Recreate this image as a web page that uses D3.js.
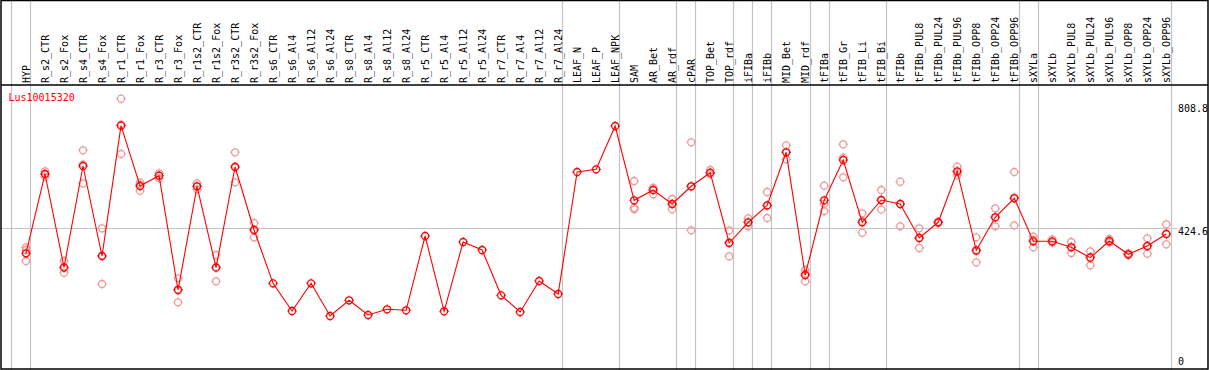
<!DOCTYPE html>
<html>
<head>
<meta charset="utf-8">
<script src="https://cdn.jsdelivr.net/npm/d3@7"></script>
<style>
  html, body { margin: 0; padding: 0; background: #fff; }
  svg { display: block; }
  text { font-family: "DejaVu Sans Mono", monospace; font-size: 10px; }
</style>
</head>
<body>
<div id="chart"></div>
<script>
// expression profile for one gene, means + replicates per sample

const geneName = "Lus10015320";

const samples = [
  "HYP", "R_s2_CTR", "R_s2_Fox", "R_s4_CTR", "R_s4_Fox", "R_r1_CTR", "R_r1_Fox",
  "R_r3_CTR", "R_r3_Fox", "R_r1s2_CTR", "R_r1s2_Fox", "R_r3s2_CTR", "R_r3s2_Fox",
  "R_s6_CTR", "R_s6_Al4", "R_s6_Al12", "R_s6_Al24", "R_s8_CTR", "R_s8_Al4",
  "R_s8_Al12", "R_s8_Al24", "R_r5_CTR", "R_r5_Al4", "R_r5_Al12", "R_r5_Al24",
  "R_r7_CTR", "R_r7_Al4", "R_r7_Al12", "R_r7_Al24", "LEAF_N", "LEAF_P", "LEAF_NPK",
  "SAM", "AR_Bet", "AR_rdf", "cPAR", "TOP_Bet", "TOP_rdf", "iFIBa", "iFIBb",
  "MID_Bet", "MID_rdf", "tFIBa", "tFIB_Gr", "tFIB_Li", "tFIB_Bi", "tFIBb",
  "tFIBb_PUL8", "tFIBb_PUL24", "tFIBb_PUL96", "tFIBb_OPP8", "tFIBb_OPP24", "tFIBb_OPP96",
  "sXYLa", "sXYLb", "sXYLb_PUL8", "sXYLb_PUL24", "sXYLb_PUL96", "sXYLb_OPP8",
  "sXYLb_OPP24", "sXYLb_OPP96"
];

const means = [
  346.5, 594.2, 302.7, 619.2, 338.0, 745.1, 556.7, 588.9, 231.8, 555.8, 301.5, 616.1, 419.2,
  252.7, 166.2, 252.7, 150.6, 199.6, 153.7, 171.5, 168.4, 400.5, 165.3, 381.8, 356.8,
  215.2, 163.1, 259.9, 219.3, 600.4, 608.9, 744.1,
  512.0, 544.2, 500.5, 555.8, 598.3, 378.6, 443.3, 496.4, 662.0, 278.7, 512.0, 637.9,
  443.3, 513.0, 500.5, 394.3, 443.3, 602.6, 355.8, 458.9, 518.3,
  383.9, 383.9, 365.2, 332.7, 384.9, 343.3, 369.3, 406.7
];

const replicates = [
  [365.2, 356.8, 322.4], [602.6, 585.8, 594.0], [322.4, 285.8, 300.0], [668.2, 565.1, 624.3],
  [424.6, 250.5, 338.9], [829.4, 656.7, 749.2], [567.0, 542.0, 561.0], [596.4, 588.9, 581.0],
  [268.4, 193.4, 233.6], [565.1, 555.8, 546.0], [341.1, 259.0, 304.4], [662.0, 568.3, 618.0],
  [441.1, 396.4, 420.0],
  [], [], [], [], [], [], [], [], [], [], [], [], [], [], [], [], [], [], [],
  [572.3, 483.9, 488.9], [550.5, 530.8, 551.0], [516.1, 483.9, 501.0], [693.2, 418.3, 555.8],
  [606.7, 594.2, 594.0], [418.3, 337.1, 380.4], [455.8, 430.8, 443.0], [538.0, 456.7, 494.5],
  [683.8, 640.1, 662.0], [294.3, 259.0, 282.8], [557.6, 478.6, 500.5], [687.0, 583.9, 645.1],
  [471.4, 410.8, 447.7], [544.2, 482.7, 512.0], [570.1, 430.8, 500.6], [424.6, 363.0, 395.0],
  [445.0, 441.0, 443.3], [617.0, 591.1, 600.0], [396.4, 318.3, 352.7], [487.0, 430.8, 459.0],
  [600.4, 433.9, 520.6], [398.3, 365.2, 388.0], [390.2, 379.6, 382.0], [381.8, 347.4, 366.0],
  [352.7, 309.0, 336.0], [391.1, 383.0, 380.0], [346.5, 343.0, 340.0], [393.3, 345.2, 369.0],
  [437.1, 374.6, 408.0]
];

// a separator is drawn right after each of these samples
const groupEnds = [
  "HYP", "R_r7_Al24", "LEAF_NPK", "AR_rdf", "cPAR", "TOP_rdf", "iFIBa", "iFIBb",
  "MID_rdf", "tFIBa", "tFIB_Bi", "tFIBb_OPP96", "sXYLa", "sXYLb_OPP96"
];

const yTicks = [0, 424.6, 808.8];
const yGrid = [424.6];

const width = 1209;
const height = 370;
const headerY = 85;

const svg = d3.select("#chart").append("svg")
  .attr("width", width)
  .attr("height", height);

const x = d3.scalePoint().domain(samples).range([26, 1166.3]);
const step = x.step();
const y = d3.scaleLinear().domain([0, 808.8]).range([364.2, 105.3]);

// vertical separators
const sepX = [x(samples[0]) - step + 4.3].concat(groupEnds.map(s => x(s) + 4.3));
svg.append("g").selectAll("line").data(sepX).join("line")
  .attr("x1", d => Math.round(d) + 0.5).attr("x2", d => Math.round(d) + 0.5)
  .attr("y1", 0).attr("y2", height)
  .attr("stroke", "#c4c4c4").attr("stroke-width", 1.2);

// horizontal grid
svg.append("g").selectAll("line").data(yGrid).join("line")
  .attr("x1", 1).attr("x2", 1177)
  .attr("y1", d => Math.round(y(d)) + 0.5).attr("y2", d => Math.round(y(d)) + 0.5)
  .attr("stroke", "#c4c4c4").attr("stroke-width", 1.2);

// y labels on the right
svg.append("g").selectAll("text").data(yTicks).join("text")
  .attr("x", 1178)
  .attr("y", d => d === 0 ? y(d) + 0.8 : y(d) + 6.8)
  .attr("fill", "#000")
  .text(d => d === 0 ? "0" : d3.format(".1f")(d));

// column labels
svg.append("g").selectAll("text").data(samples).join("text")
  .attr("transform", d => `translate(${x(d) + 3.7},83) rotate(-90)`)
  .attr("fill", "#000")
  .text(d => d);

// gene name
svg.append("text")
  .attr("x", 8.5).attr("y", 101)
  .attr("fill", "#ff0000")
  .text(geneName);

function marker(g, color) {
  g.append("circle").attr("r", 3.5)
    .attr("fill", "none").attr("stroke", color).attr("stroke-width", 1.3);
  g.append("path")
    .attr("d", "M0,-4.8V-3.6M0,3.6V4.8M-4.8,0H-3.6M3.6,0H4.8")
    .attr("stroke", color).attr("stroke-width", 1);
}

// replicates
const repPts = [];
replicates.forEach((r, i) => r.forEach(v => repPts.push({ s: samples[i], v })));
svg.append("g").selectAll("g").data(repPts).join("g")
  .attr("transform", d => `translate(${x(d.s)},${y(d.v)})`)
  .each(function () { marker(d3.select(this), "#ee9a9a"); });

// mean line
const line = d3.line().x((d, i) => x(samples[i])).y(d => y(d));
svg.append("path").datum(means)
  .attr("d", line)
  .attr("fill", "none").attr("stroke", "#ff0000").attr("stroke-width", 1.1);

svg.append("g").selectAll("g").data(means).join("g")
  .attr("transform", (d, i) => `translate(${x(samples[i])},${y(d)})`)
  .each(function () { marker(d3.select(this), "#ff0000"); });

// frame and header rule
svg.append("rect")
  .attr("x", 1).attr("y", 0.5).attr("width", 1207).attr("height", 368.5)
  .attr("fill", "none").attr("stroke", "#000").attr("stroke-width", 1.5);
svg.append("line")
  .attr("x1", 1).attr("x2", 1208).attr("y1", headerY).attr("y2", headerY)
  .attr("stroke", "#000").attr("stroke-width", 1.5);
</script>
</body>
</html>
